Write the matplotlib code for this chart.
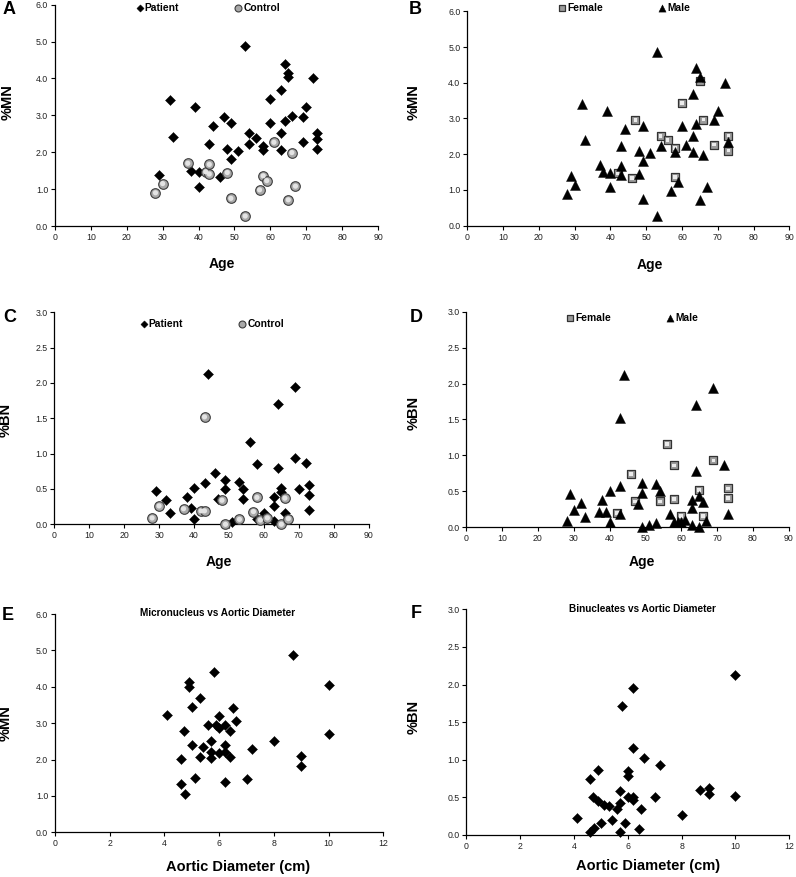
import matplotlib
matplotlib.use('Agg')
import matplotlib.pyplot as plt
import numpy as np

plt.rcParams['font.family'] = ['Liberation Sans', 'DejaVu Sans']

# ---- data ----
# A: %MN vs age, patient / control
a_patient_age = [29, 32, 33, 38, 39, 40, 40, 43, 44, 46, 47, 48, 49, 49, 51, 53, 54, 54, 56,
                 58, 58, 60, 60, 63, 63, 63, 64, 64, 65, 65, 66, 69, 69, 70, 72, 73, 73, 73]
a_patient_mn = [1.38, 3.41, 2.40, 1.50, 3.22, 1.47, 1.07, 2.22, 2.70, 1.33, 2.95, 2.08, 2.78, 1.81,
                2.03, 4.87, 2.51, 2.22, 2.39, 2.18, 2.06, 3.43, 2.80, 3.69, 2.51, 2.05, 4.40, 2.85,
                4.15, 4.04, 2.97, 2.96, 2.27, 3.22, 4.00, 2.52, 2.35, 2.10]
a_control_age = [28, 30, 37, 42, 43, 43, 48, 49, 53, 57, 58, 59, 61, 65, 66, 67]
a_control_mn = [0.90, 1.15, 1.70, 1.47, 1.67, 1.41, 1.45, 0.75, 0.27, 0.98, 1.36, 1.23, 2.27,
                0.71, 1.99, 1.08]

# B: %MN vs age, female / male
b_female_age = [42, 46, 47, 54, 56, 58, 58, 60, 65, 66, 69, 73, 73]
b_female_mn = [1.47, 1.33, 2.95, 2.51, 2.39, 2.18, 1.36, 3.43, 4.04, 2.97, 2.27, 2.52, 2.10]
b_male_age = [28, 29, 30, 32, 33, 37, 38, 39, 40, 40, 43, 43, 43, 44, 48, 48, 49, 49, 49, 51, 53,
              53, 54, 57, 58, 59, 60, 61, 63, 63, 63, 64, 64, 65, 65, 66, 67, 69, 70, 72, 73]
b_male_mn = [0.90, 1.38, 1.15, 3.41, 2.40, 1.70, 1.50, 3.22, 1.47, 1.07, 2.22, 1.67, 1.41, 2.70,
             2.08, 1.45, 2.78, 1.81, 0.75, 2.03, 4.87, 0.27, 2.22, 0.98, 2.06, 1.23, 2.80, 2.27,
             3.69, 2.51, 2.05, 4.40, 2.85, 4.15, 0.71, 1.99, 1.08, 2.96, 3.22, 4.00, 2.35]

# C: %BN vs age, patient / control
c_patient_age = [29, 32, 33, 38, 39, 40, 40, 43, 44, 46, 47, 49, 49, 51, 53, 54, 54, 56, 58, 58,
                 60, 63, 63, 63, 64, 64, 65, 65, 66, 69, 69, 70, 72, 73, 73, 73]
c_patient_bn = [0.47, 0.34, 0.16, 0.38, 0.23, 0.51, 0.08, 0.58, 2.13, 0.73, 0.36, 0.63, 0.50,
                0.03, 0.60, 0.50, 0.36, 1.16, 0.86, 0.07, 0.16, 0.38, 0.26, 0.04, 1.70, 0.79,
                0.52, 0.46, 0.16, 1.94, 0.94, 0.50, 0.87, 0.56, 0.42, 0.20]
c_control_age = [28, 30, 37, 42, 43, 43, 48, 49, 53, 57, 58, 59, 61, 65, 66, 67]
c_control_bn = [0.09, 0.26, 0.22, 0.19, 0.19, 1.52, 0.34, 0.00, 0.07, 0.18, 0.38, 0.06, 0.09,
                0.00, 0.37, 0.08]

# D: %BN vs age, female / male
d_female_age = [42, 46, 47, 54, 56, 58, 58, 60, 65, 66, 69, 73, 73]
d_female_bn = [0.20, 0.74, 0.36, 0.36, 1.16, 0.86, 0.39, 0.16, 0.52, 0.16, 0.93, 0.54, 0.41]
d_male_age = [28, 29, 30, 32, 33, 37, 38, 39, 40, 40, 43, 43, 43, 44, 48, 49, 49, 49, 51, 53,
              53, 54, 57, 58, 59, 60, 61, 63, 63, 63, 64, 64, 65, 65, 66, 67, 69, 72, 73]
d_male_bn = [0.09, 0.46, 0.24, 0.34, 0.15, 0.21, 0.38, 0.21, 0.08, 0.50, 0.57, 1.52, 0.19, 2.12,
             0.33, 0.00, 0.62, 0.48, 0.03, 0.06, 0.60, 0.50, 0.18, 0.07, 0.07, 0.07, 0.10, 0.03,
             0.27, 0.38, 1.70, 0.78, 0.44, 0.00, 0.35, 0.09, 1.94, 0.87, 0.19]

# E: %MN vs aortic diameter
e_diam = [4.1, 4.6, 4.6, 4.7, 4.75, 4.9, 4.9, 5.0, 5.0, 5.1, 5.3, 5.3, 5.4, 5.6, 5.7, 5.7, 5.7,
          5.8, 5.9, 6.0, 6.0, 6.0, 6.2, 6.2, 6.2, 6.2, 6.4, 6.4, 6.5, 6.6, 7.0, 7.2, 8.0, 8.7,
          9.0, 9.0, 10.0, 10.0]
e_mn = [3.23, 2.02, 1.34, 2.79, 1.06, 4.12, 3.98, 2.41, 3.44, 1.50, 3.70, 2.07, 2.35, 2.96, 2.52,
        2.22, 2.03, 4.40, 2.96, 3.20, 2.87, 2.18, 2.96, 2.39, 2.22, 1.38, 2.79, 2.06, 3.41, 3.07,
        1.47, 2.28, 2.52, 4.88, 2.11, 1.82, 4.04, 2.70]

# F: %BN vs aortic diameter
f_diam = [4.1, 4.6, 4.6, 4.7, 4.75, 4.9, 4.9, 5.0, 5.1, 5.3, 5.4, 5.6, 5.7, 5.7, 5.7, 5.8, 5.9,
          6.0, 6.0, 6.0, 6.2, 6.2, 6.2, 6.2, 6.4, 6.5, 6.6, 7.0, 7.2, 8.0, 8.7, 9.0, 9.0, 10.0,
          10.0]
f_bn = [0.23, 0.74, 0.04, 0.50, 0.09, 0.87, 0.45, 0.16, 0.40, 0.38, 0.20, 0.35, 0.58, 0.42, 0.04,
        1.71, 0.16, 0.85, 0.79, 0.50, 1.95, 1.16, 0.50, 0.47, 0.08, 0.35, 1.02, 0.51, 0.93, 0.26,
        0.60, 0.63, 0.54, 2.13, 0.52]

# ---- layout helpers (pixel coords of the 796x877 original) ----
W, H = 796, 877


def fx(x):
    return x / W


def fy(y):
    return 1 - y / H


def make_axes(fig, left, top, right, bottom):
    ax = fig.add_axes([fx(left), fy(bottom), (right - left) / W, (bottom - top) / H])
    for s in ['top', 'right']:
        ax.spines[s].set_visible(False)
    for s in ['left', 'bottom']:
        ax.spines[s].set_linewidth(0.9)
    ax.tick_params(direction='out', length=3, width=0.8, labelsize=6.3, pad=2,
                   colors='black', labelcolor='#222222')
    return ax


def diamond(ax, x, y):
    return ax.scatter(x, y, marker='D', s=26, c='black', edgecolors='black',
                      linewidths=0.3, clip_on=False, zorder=3)


def sphere(ax, x, y):
    h = ax.scatter(x, y, marker='o', s=48, c='#a8a8a8', edgecolors='#3c3c3c',
                   linewidths=0.8, clip_on=False, zorder=4)
    ax.scatter(x, y, marker='o', s=14, c='#e4e4e4', edgecolors='none', clip_on=False, zorder=4)
    return h


def square(ax, x, y):
    h = ax.scatter(x, y, marker='s', s=30, c='#9c9c9c', edgecolors='#333333',
                   linewidths=0.9, clip_on=False, zorder=3)
    ax.scatter(x, y, marker='s', s=7, c='#ececec', edgecolors='none', clip_on=False, zorder=3)
    return h


def triangle(ax, x, y):
    return ax.scatter(x, y, marker='^', s=52, c='black', edgecolors='black',
                      linewidths=0.3, clip_on=False, zorder=4)


def legend(ax, handles, labels, cx, cy, spacing):
    ax.legend(handles, labels, loc='center', bbox_to_anchor=(fx(cx), fy(cy)),
              bbox_transform=ax.figure.transFigure, ncol=2, frameon=False,
              markerscale=0.72, handlelength=0.7, handletextpad=0.15,
              columnspacing=spacing, borderpad=0, prop={'weight': 'bold', 'size': 7.4})


def labels(ax, xlabel, xpos, ylabel, ypos, xsize=10):
    fig = ax.figure
    ax.set_xlabel(xlabel, fontsize=xsize, weight='bold')
    ax.xaxis.set_label_coords(fx(xpos[0]), fy(xpos[1]), transform=fig.transFigure)
    ax.xaxis.label.set_va('center')
    ax.set_ylabel(ylabel, fontsize=10.5, weight='bold')
    ax.yaxis.set_label_coords(fx(ypos[0]), fy(ypos[1]), transform=fig.transFigure)
    ax.yaxis.label.set_va('center')
    ax.yaxis.label.set_ha('center')


def letter(fig, s, x, y):
    fig.text(fx(x), fy(y), s, ha='center', va='center', fontsize=13, weight='bold')


fig = plt.figure(figsize=(W / 100, H / 100), dpi=100)

age_ticks = np.arange(0, 91, 10)
mn_ticks = np.arange(0, 6.01, 1.0)
bn_ticks = np.arange(0, 3.01, 0.5)
diam_ticks = np.arange(0, 13, 2)

# A
ax = make_axes(fig, 55, 4.7, 378, 226)
h1 = diamond(ax, a_patient_age, a_patient_mn)
h2 = sphere(ax, a_control_age, a_control_mn)
ax.set_xlim(0, 90)
ax.set_ylim(0, 6)
ax.set_xticks(age_ticks)
ax.set_yticks(mn_ticks)
ax.set_yticklabels([f'{v:.1f}' for v in mn_ticks])
legend(ax, [h1, h2], ['Patient', 'Control'], 208, 8, 5.4)
labels(ax, 'Age', (222, 264), '%MN', (8, 102))
letter(fig, 'A', 9, 10)

# B
ax = make_axes(fig, 467.3, 11.3, 789.3, 225.7)
h1 = square(ax, b_female_age, b_female_mn)
h2 = triangle(ax, b_male_age, b_male_mn)
ax.set_xlim(0, 90)
ax.set_ylim(0, 6)
ax.set_xticks(age_ticks)
ax.set_yticks(mn_ticks)
ax.set_yticklabels([f'{v:.1f}' for v in mn_ticks])
legend(ax, [h1, h2], ['Female', 'Male'], 624, 8, 5.4)
labels(ax, 'Age', (650, 265), '%MN', (414, 102))
letter(fig, 'B', 415, 10)

# C
ax = make_axes(fig, 54.3, 312.3, 368.7, 524.3)
h1 = diamond(ax, c_patient_age, c_patient_bn)
h2 = sphere(ax, c_control_age, c_control_bn)
ax.set_xlim(0, 90)
ax.set_ylim(0, 3)
ax.set_xticks(age_ticks)
ax.set_yticks(bn_ticks)
ax.set_yticklabels([f'{v:.1f}' for v in bn_ticks])
legend(ax, [h1, h2], ['Patient', 'Control'], 212, 324, 5.4)
labels(ax, 'Age', (219, 562), '%BN', (6, 420))
letter(fig, 'C', 10, 318)

# D
ax = make_axes(fig, 466.3, 311.7, 788.7, 527.3)
h1 = square(ax, d_female_age, d_female_bn)
h2 = triangle(ax, d_male_age, d_male_bn)
ax.set_xlim(0, 90)
ax.set_ylim(0, 3)
ax.set_xticks(age_ticks)
ax.set_yticks(bn_ticks)
ax.set_yticklabels([f'{v:.1f}' for v in bn_ticks])
legend(ax, [h1, h2], ['Female', 'Male'], 632, 318, 5.4)
labels(ax, 'Age', (642, 562), '%BN', (414, 413))
letter(fig, 'D', 416, 318)

# E
ax = make_axes(fig, 55, 614, 383.3, 832.3)
diamond(ax, e_diam, e_mn)
ax.set_xlim(0, 12)
ax.set_ylim(0, 6)
ax.set_xticks(diam_ticks)
ax.set_yticks(mn_ticks)
ax.set_yticklabels([f'{v:.1f}' for v in mn_ticks])
ax.set_title('Micronucleus vs Aortic Diameter', x=0.496, y=0.968, va='center',
             fontsize=7.2, weight='bold')
labels(ax, 'Aortic Diameter (cm)', (238, 867), '%MN', (6, 723), xsize=10.5)
letter(fig, 'E', 8, 616)

# F
ax = make_axes(fig, 466.3, 609.3, 789.3, 835)
diamond(ax, f_diam, f_bn)
ax.set_xlim(0, 12)
ax.set_ylim(0, 3)
ax.set_xticks(diam_ticks)
ax.set_yticks(bn_ticks)
ax.set_yticklabels([f'{v:.1f}' for v in bn_ticks])
ax.set_title('Binucleates vs Aortic Diameter', x=0.544, y=0.966, va='center',
             fontsize=7.2, weight='bold')
labels(ax, 'Aortic Diameter (cm)', (648, 866), '%BN', (414, 717), xsize=10.5)
letter(fig, 'F', 416, 613)

fig.savefig('out.png', dpi=100, facecolor='white')
